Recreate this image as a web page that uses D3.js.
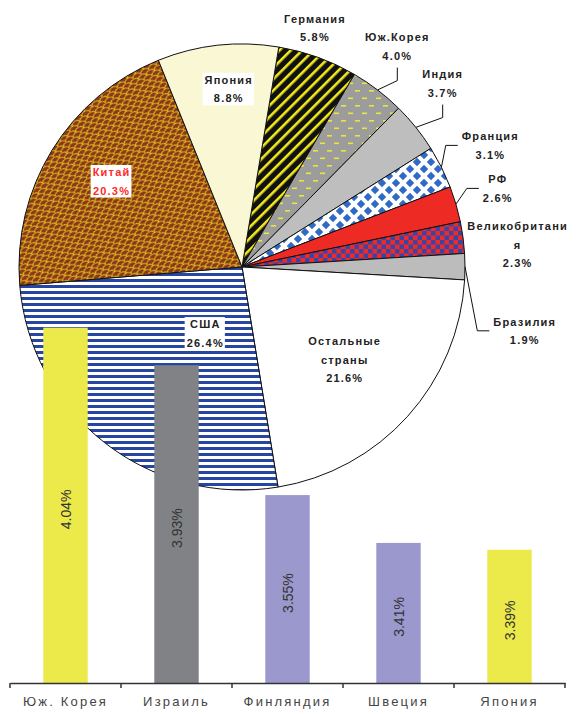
<!DOCTYPE html>
<html>
<head>
<meta charset="utf-8">
<script src="https://cdnjs.cloudflare.com/ajax/libs/d3/7.8.5/d3.min.js"></script>
<style>
body { margin: 0; background: #fff; }
svg { display: block; }
</style>
</head>
<body>
<svg width="576" height="714"></svg>
<script>
// pie: share of world R&D spending, clockwise from Germany
const pie_labels = ["Германия", "Юж.Корея", "Индия", "Франция", "РФ", "Великобритани\nя", "Бразилия", "Остальные\nстраны", "США", "Китай", "Япония"]
const pie_values = [5.8, 4.0, 3.7, 3.1, 2.6, 2.3, 1.9, 21.6, 26.4, 20.3, 8.8]

// bars: R&D as % of GDP
const bar_categories = ["Юж. Корея", "Израиль", "Финляндия", "Швеция", "Япония"]
const bar_values = [4.04, 3.93, 3.55, 3.41, 3.39]

// styles
const pie_fills = ["url(#p_germany)", "url(#p_korea)", "#bebebe", "url(#p_france)", "#ee2a24",
                   "url(#p_uk)", "#bcbcbc", "#ffffff", "url(#p_usa)", "url(#p_china)", "#faf8d4"]
const bar_colors = ["#ece94a", "#808285", "#9a98cc", "#9a98cc", "#ece94a"]

// label placement: angle shift (deg) from slice middle, radius factor, leader side
const label_shift = [-2.9, -2.3, -3.7, 0.5, -0.7, 3, 12.8, 0, -9, 1.7, 2]
const label_radius = [1.12, 1.21, 1.22, 1.24, 1.2, 1.24, 1.3, 0.62, 0.34, 0.7, 0.8]
const label_leader = [null, "below", "below", "left", "left", null, "left", null, null, null, null]
const label_box = [false, false, false, false, false, false, false, false, true, true, true]
const label_color = ["#222", "#222", "#222", "#222", "#222", "#222", "#222", "#222", "#222", "#ff2a2a", "#222"]

const center = [242, 267]
const radius = 223
const start_angle = 9.5 * Math.PI / 180
const line_height = 18.5

const svg = d3.select("svg")
const defs = svg.append("defs")

// ---- patterns ----
let p = defs.append("pattern").attr("id", "p_germany").attr("patternUnits", "userSpaceOnUse")
    .attr("width", 8).attr("height", 8).attr("patternTransform", "rotate(45)")
p.append("rect").attr("width", 8).attr("height", 8).attr("fill", "#111")
p.append("rect").attr("width", 2.6).attr("height", 8).attr("fill", "#f2ea1c")

p = defs.append("pattern").attr("id", "p_korea").attr("patternUnits", "userSpaceOnUse")
    .attr("width", 14).attr("height", 15)
p.append("rect").attr("width", 14).attr("height", 15).attr("fill", "#9c9c9c")
p.append("rect").attr("x", 1).attr("y", 3).attr("width", 5).attr("height", 1.6).attr("fill", "#ece63a")
p.append("rect").attr("x", 8).attr("y", 10.5).attr("width", 5).attr("height", 1.6).attr("fill", "#ece63a")

p = defs.append("pattern").attr("id", "p_france").attr("patternUnits", "userSpaceOnUse")
    .attr("width", 14).attr("height", 14)
p.append("rect").attr("width", 14).attr("height", 14).attr("fill", "#fff")
const diamond = (cx, cy, a) => `M${cx},${cy - a}L${cx + a},${cy}L${cx},${cy + a}L${cx - a},${cy}Z`
p.append("path").attr("fill", "#2f6bc4")
    .attr("d", [[0, 0], [14, 0], [0, 14], [14, 14], [7, 7]].map(c => diamond(c[0], c[1], 4.2)).join(""))

p = defs.append("pattern").attr("id", "p_uk").attr("patternUnits", "userSpaceOnUse")
    .attr("width", 9).attr("height", 9)
p.append("rect").attr("width", 9).attr("height", 9).attr("fill", "#ee2a24")
p.append("rect").attr("width", 4.5).attr("height", 4.5).attr("fill", "#3a44a8")
p.append("rect").attr("x", 4.5).attr("y", 4.5).attr("width", 4.5).attr("height", 4.5).attr("fill", "#3a44a8")

p = defs.append("pattern").attr("id", "p_usa").attr("patternUnits", "userSpaceOnUse")
    .attr("width", 6).attr("height", 6)
p.append("rect").attr("width", 6).attr("height", 6).attr("fill", "#fff")
p.append("rect").attr("width", 6).attr("height", 3).attr("fill", "#2646a2")

p = defs.append("pattern").attr("id", "p_china").attr("patternUnits", "userSpaceOnUse")
    .attr("width", 9).attr("height", 7).attr("patternTransform", "rotate(-30)")
p.append("rect").attr("width", 9).attr("height", 7).attr("fill", "#8a3618")
p.append("path")
    .attr("d", "M0,7 A4.5,3.5 0 0 1 9,7 M-4.5,3.5 A4.5,3.5 0 0 1 4.5,3.5 M4.5,3.5 A4.5,3.5 0 0 1 13.5,3.5")
    .attr("fill", "none").attr("stroke", "#e2c020").attr("stroke-width", 1.05)

// ---- pie ----
const pie = d3.pie().sort(null).value(d => d)
    .startAngle(start_angle).endAngle(start_angle + 2 * Math.PI)
const arcs = pie(pie_values)
const arc = d3.arc().innerRadius(0).outerRadius(radius)

const pie_g = svg.append("g").attr("transform", `translate(${center[0]},${center[1]})`)

pie_g.selectAll("path.slice")
    .data(arcs)
    .enter()
    .append("path")
    .attr("class", "slice")
    .attr("d", arc)
    .attr("fill", (d, i) => pie_fills[i])
    .attr("stroke", "#111")
    .attr("stroke-width", 1)

const polar = (angle, r) => [Math.sin(angle) * r, -Math.cos(angle) * r]

arcs.forEach((d, i) => {
    const mid = (d.startAngle + d.endAngle) / 2
    const pos = polar(mid + label_shift[i] * Math.PI / 180, radius * label_radius[i])
    const lines = pie_labels[i].split("\n").concat([pie_values[i].toFixed(1) + "%"])

    const g = pie_g.append("g")
    const text = g.append("text")
        .attr("text-anchor", "middle")
        .attr("font-family", "'Liberation Sans', Arial, sans-serif")
        .attr("font-weight", "bold")
        .attr("font-size", 11)
        .attr("letter-spacing", 1.2)
        .attr("fill", label_color[i])

    const first_y = pos[1] - (lines.length - 1) * line_height / 2 + 4
    lines.forEach((line, j) => {
        text.append("tspan")
            .attr("x", pos[0])
            .attr("y", first_y + j * line_height)
            .text(line)
    })

    const box = text.node().getBBox()
    if (label_box[i]) {
        g.insert("rect", "text")
            .attr("x", box.x - 2)
            .attr("y", box.y - 1)
            .attr("width", box.width + 3)
            .attr("height", box.height + 2)
            .attr("fill", "#fff")
    }

    if (label_leader[i]) {
        const start = polar(mid, radius)
        let pts
        if (label_leader[i] === "below") {
            const cx = box.x + box.width / 2
            const end_y = box.y + box.height + 6
            pts = [start, [cx, end_y + 13], [cx, end_y]]
        } else {
            const mid_y = box.y + box.height / 2
            const end_x = box.x - 4
            pts = [start, [end_x - 12, mid_y], [end_x, mid_y]]
        }
        pie_g.append("path")
            .attr("d", d3.line()(pts))
            .attr("fill", "none")
            .attr("stroke", "#111")
            .attr("stroke-width", 1)
    }
})

// ---- bars ----
const x = d3.scaleBand()
    .domain(bar_categories)
    .range([10, 565])
    .paddingInner(0.6)
    .paddingOuter(0.3)

const y = d3.scaleLinear()
    .domain([3, 4.2])
    .range([683, 273])

const bar_g = svg.append("g")

bar_g.selectAll("rect")
    .data(bar_values)
    .enter()
    .append("rect")
    .attr("x", (d, i) => x(bar_categories[i]))
    .attr("y", d => y(d))
    .attr("width", x.bandwidth())
    .attr("height", d => y(3) - y(d))
    .attr("fill", (d, i) => bar_colors[i])

bar_g.selectAll("text.value")
    .data(bar_values)
    .enter()
    .append("text")
    .attr("class", "value")
    .attr("transform", (d, i) => {
        const cx = x(bar_categories[i]) + x.bandwidth() / 2
        const cy = (y(d) + y(3)) / 2 + 4
        return `translate(${cx + 5},${cy}) rotate(-90)`
    })
    .attr("text-anchor", "middle")
    .attr("font-family", "'Liberation Sans', Arial, sans-serif")
    .attr("font-size", 14)
    .attr("fill", "#333")
    .text(d => d.toFixed(2) + "%")

// x axis with ticks between categories
const axis_y = y(3)
const axis = svg.append("g").attr("transform", `translate(0,${axis_y})`)
    .call(d3.axisBottom(x).tickSize(0).tickPadding(14))
axis.select(".domain").attr("stroke", "#333").attr("stroke-width", 1.5)
axis.selectAll(".tick text")
    .attr("font-family", "'Liberation Sans', Arial, sans-serif")
    .attr("font-size", 13)
    .attr("letter-spacing", 2.2)
    .attr("fill", "#444")

const boundaries = d3.range(bar_categories.length + 1)
    .map(i => x.range()[0] + i * x.step())
axis.selectAll("line.sep")
    .data(boundaries)
    .enter()
    .append("line")
    .attr("class", "sep")
    .attr("x1", d => d).attr("x2", d => d)
    .attr("y1", 0).attr("y2", 5)
    .attr("stroke", "#333")
    .attr("stroke-width", 1.5)
</script>
</body>
</html>
